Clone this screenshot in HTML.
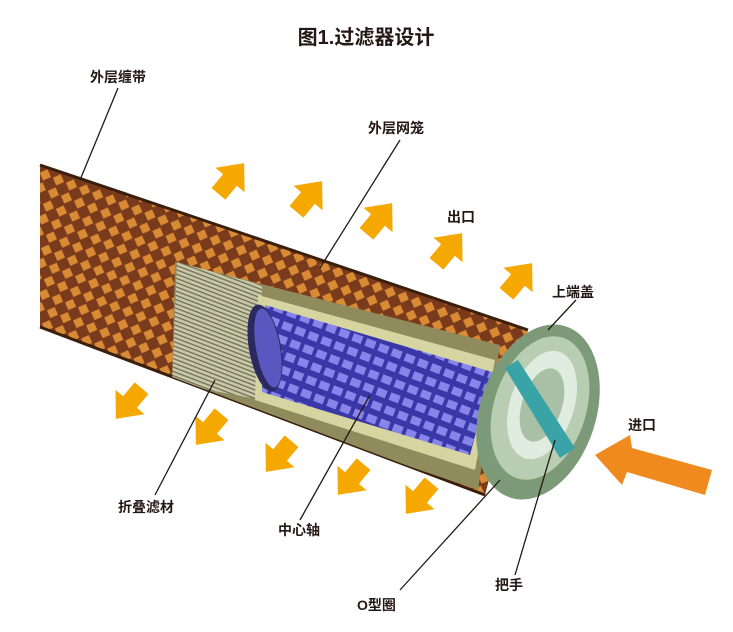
<!DOCTYPE html>
<html><head><meta charset="utf-8"><style>
body{margin:0;background:#fff;}
svg{display:block}
text{font-family:"Liberation Sans","Noto Sans CJK SC",sans-serif;font-weight:bold;fill:#231815}
</style></head><body>
<svg width="733" height="632" viewBox="0 0 733 632" xmlns="http://www.w3.org/2000/svg">
<defs>
<pattern id="mesh" width="14" height="14" patternUnits="userSpaceOnUse" patternTransform="rotate(21)">
<rect width="14" height="14" fill="#7a3a1c"/>
<path d="M7 1L13 7L7 13L1 7Z" fill="#d98a34"/>
</pattern>
<pattern id="core" width="14" height="14" patternUnits="userSpaceOnUse" patternTransform="rotate(21)">
<rect width="14" height="14" fill="#3a38a8"/>
<rect x="2" y="2" width="10" height="8" fill="#8784ea"/>
</pattern>
<pattern id="pleat" width="10" height="4" patternUnits="userSpaceOnUse" patternTransform="rotate(21)">
<rect width="10" height="4" fill="#c9c8a8"/>
<rect width="10" height="1.3" fill="#6e6e58"/>
</pattern>
<clipPath id="tc"><polygon points="40,165 528,330 485,495 40,327"/></clipPath>
<g id="arr"><polygon points="-9,18 -9,0 -19,0 0,-22 19,0 9,0 9,18" fill="#f5a800"/></g>
</defs>
<text x="366" y="44" font-size="20" text-anchor="middle">图1.过滤器设计</text>
<polygon points="40,165 528,330 485,495 40,327" fill="url(#mesh)"/>
<path d="M40,165 L528,330" stroke="#3a1f0c" stroke-width="3" fill="none"/>
<path d="M40,327 L485,495" stroke="#3a1f0c" stroke-width="3" fill="none"/>
<g clip-path="url(#tc)">
<polygon points="175,262 500,345 478,490 172,385" fill="#8f8b5c"/>
<polygon points="177,262 262,285 262,400 172,383" fill="url(#pleat)"/>
<polygon points="258,295 495,360 475,470 255,400" fill="#d6d4a0"/>
<polygon points="265,305 492,372 470,455 262,392" fill="url(#core)"/>
<ellipse cx="265" cy="348" rx="16" ry="44" fill="#2a2a60" transform="rotate(-10 265 348)"/>
<ellipse cx="268" cy="348" rx="12" ry="40" fill="#5a58c0" transform="rotate(-10 268 348)"/>
</g>
<ellipse cx="538" cy="412" rx="58" ry="90" fill="#7c9a78" transform="rotate(18 538 412)"/>
<ellipse cx="540" cy="408" rx="46" ry="74" fill="#b8cdb1" transform="rotate(18 540 408)"/>
<ellipse cx="542" cy="405" rx="32" ry="56" fill="#e0ece0" transform="rotate(18 542 405)"/>
<ellipse cx="542" cy="405" rx="20" ry="38" fill="#a9c0a6" transform="rotate(18 542 405)"/>
<polygon points="505,368 518,360 575,448 560,458" fill="#3aa3a8"/>
<g transform="translate(230,180) rotate(40)"><use href="#arr"/></g>
<g transform="translate(308,198) rotate(40)"><use href="#arr"/></g>
<g transform="translate(378,220) rotate(40)"><use href="#arr"/></g>
<g transform="translate(448,250) rotate(40)"><use href="#arr"/></g>
<g transform="translate(518,280) rotate(40)"><use href="#arr"/></g>
<g transform="translate(130,402) rotate(-140)"><use href="#arr"/></g>
<g transform="translate(210,428) rotate(-140)"><use href="#arr"/></g>
<g transform="translate(280,455) rotate(-140)"><use href="#arr"/></g>
<g transform="translate(352,478) rotate(-140)"><use href="#arr"/></g>
<g transform="translate(420,497) rotate(-140)"><use href="#arr"/></g>
<polygon points="595,455 630,435 632,448 712,470 705,495 627,472 622,485" fill="#ef8a1e"/>
<g stroke="#231815" stroke-width="1.3" fill="none">
<path d="M118,88 L80,180"/>
<path d="M400,140 L320,268"/>
<path d="M576,300 L548,330"/>
<path d="M215,380 L155,495"/>
<path d="M370,395 L300,520"/>
<path d="M500,480 L400,590"/>
<path d="M555,440 L515,575"/>
</g>
<g font-size="14">
<text x="90" y="82">外层缠带</text>
<text x="368" y="133">外层网笼</text>
<text x="447" y="222">出口</text>
<text x="552" y="297">上端盖</text>
<text x="628" y="430">进口</text>
<text x="118" y="512">折叠滤材</text>
<text x="278" y="535">中心轴</text>
<text x="357" y="610">O型圈</text>
<text x="495" y="590">把手</text>
</g>
</svg>
</body></html>
